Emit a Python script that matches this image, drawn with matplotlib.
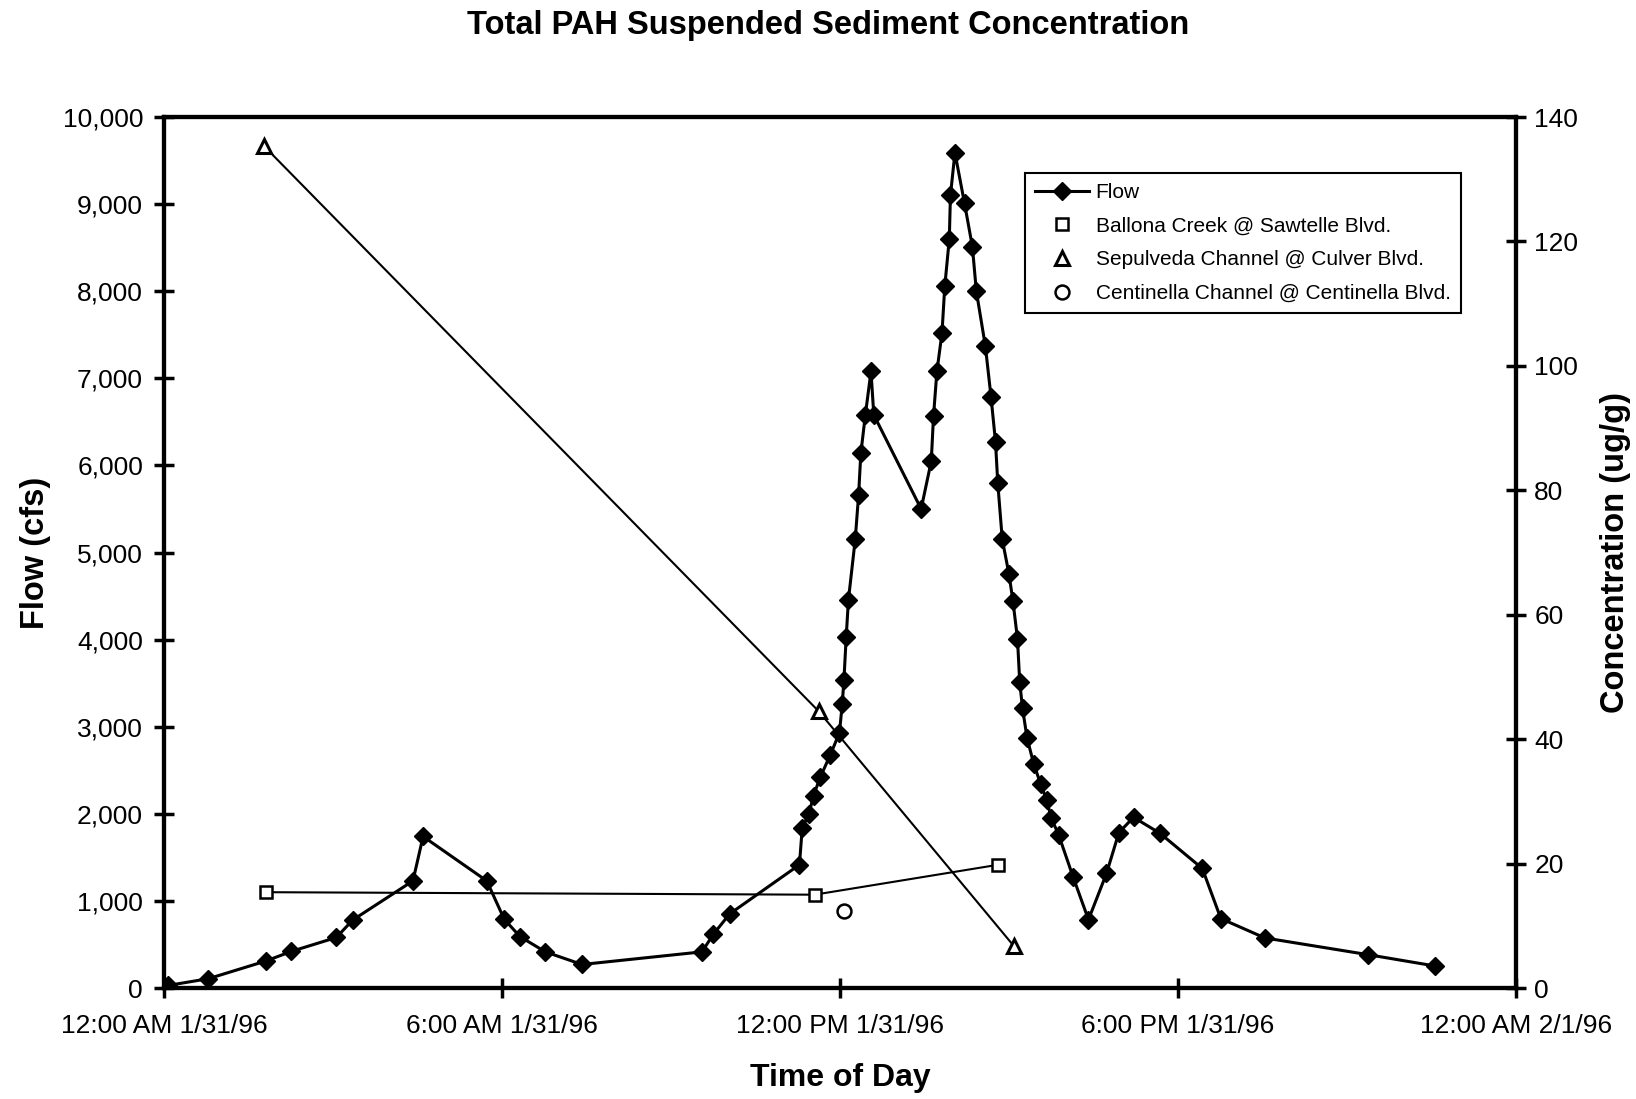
import matplotlib
matplotlib.use("Agg")
import matplotlib.pyplot as plt

plt.rcParams['font.family'] = ['Liberation Sans', 'DejaVu Sans']

# Flow (cfs) vs hours after 12:00 AM 1/31/96
flow_hours = [0.08, 0.79, 1.81, 2.26, 3.06, 3.35, 4.42, 4.60, 5.73, 6.04,
              6.32, 6.77, 7.42, 9.55, 9.75, 10.04, 11.28, 11.33, 11.45, 11.53,
              11.65, 11.83, 11.99, 12.04, 12.07, 12.11, 12.15, 12.27, 12.33, 12.37,
              12.45, 12.55, 12.60, 13.44, 13.62, 13.66, 13.72, 13.81, 13.86, 13.94,
              13.96, 14.04, 14.21, 14.35, 14.42, 14.58, 14.68, 14.76, 14.80, 14.88,
              15.00, 15.07, 15.15, 15.19, 15.24, 15.32, 15.44, 15.56, 15.67, 15.75,
              15.88, 16.14, 16.41, 16.73, 16.95, 17.21, 17.68, 18.43, 18.76, 19.54,
              21.37, 22.56]
flow_cfs = [30, 107, 310, 420, 580, 780, 1230, 1740, 1230, 790,
            590, 415, 270, 415, 615, 850, 1415, 1840, 2000, 2210,
            2420, 2680, 2930, 3260, 3540, 4030, 4460, 5150, 5660, 6140,
            6580, 7080, 6580, 5500, 6050, 6570, 7080, 7520, 8060, 8600,
            9100, 9590, 9010, 8510, 8000, 7370, 6790, 6270, 5800, 5150,
            4750, 4440, 4010, 3510, 3210, 2870, 2570, 2345, 2155, 1950,
            1760, 1270, 785, 1315, 1784, 1960, 1776, 1373, 797, 575,
            383, 253]

# Total PAH suspended sediment concentration (ug/g)
ballona_hours = [1.81, 11.55, 14.80]
ballona_conc = [15.4, 15.0, 19.8]
sepulveda_hours = [1.78, 11.62, 15.09]
sepulveda_conc = [135.3, 44.5, 6.7]
centinella_hours = [12.07]
centinella_conc = [12.4]

tick_hours = [0, 6, 12, 18, 24]
tick_labels = ["12:00 AM 1/31/96", "6:00 AM 1/31/96", "12:00 PM 1/31/96",
               "6:00 PM 1/31/96", "12:00 AM 2/1/96"]
flow_ticks = list(range(0, 10001, 1000))
conc_ticks = list(range(0, 141, 20))

fig = plt.figure(figsize=(16.36, 10.99), dpi=100)
ax = fig.add_axes([0.1002, 0.101, 0.8265, 0.7925])
ax2 = ax.twinx()

ax.plot(flow_hours, flow_cfs, color='black', lw=2.2, marker='D', ms=9.5,
        mfc='black', mec='black', label='Flow', zorder=3)

ax2.plot(ballona_hours, ballona_conc, color='black', lw=1.5, zorder=2)
ax2.plot(sepulveda_hours, sepulveda_conc, color='black', lw=1.5, zorder=2)
h1, = ax2.plot(ballona_hours, ballona_conc, ls='none', marker='s', ms=9,
               mfc='white', mec='black', mew=1.8, label='Ballona Creek @ Sawtelle Blvd.')
h2, = ax2.plot(sepulveda_hours, sepulveda_conc, ls='none', marker='^', ms=10,
               mfc='white', mec='black', mew=2.2, label='Sepulveda Channel @ Culver Blvd.')
h3, = ax2.plot(centinella_hours, centinella_conc, ls='none', marker='o', ms=10,
               mfc='white', mec='black', mew=1.8, label='Centinella Channel @ Centinella Blvd.')

ax.set_xlim(0, 24)
ax.set_ylim(0, 10000)
ax2.set_ylim(0, 140)
ax.set_xticks(tick_hours)
ax.set_xticklabels(tick_labels)
ax.set_yticks(flow_ticks)
ax.set_yticklabels([f"{v:,}" for v in flow_ticks])
ax2.set_yticks(conc_ticks)

for a in (ax, ax2):
    for s in a.spines.values():
        s.set_linewidth(3)
ax.tick_params(axis='both', direction='inout', length=14, width=2.5, labelsize=19)
ax.tick_params(axis='x', pad=12)
ax.tick_params(axis='y', pad=8)
ax2.tick_params(axis='y', direction='inout', length=14, width=2.5, labelsize=19, pad=6)

ax.set_xlabel("Time of Day", fontsize=23, fontweight='bold', labelpad=18)
ax.set_ylabel("Flow (cfs)", fontsize=23.5, fontweight='bold', labelpad=8)
ax2.set_ylabel("Concentration (ug/g)", fontsize=23.5, fontweight='bold', labelpad=16)
fig.suptitle("Total PAH Suspended Sediment Concentration", x=0.506, y=0.977, va='center',
             fontsize=23.5, fontweight='bold')

hf, lf = ax.get_legend_handles_labels()
leg = ax2.legend(hf + [h1, h2, h3], lf + [h1.get_label(), h2.get_label(), h3.get_label()],
                 loc='upper right', bbox_to_anchor=(0.967, 0.948), fontsize=15,
                 fancybox=False, framealpha=1, edgecolor='black', borderpad=0.5,
                 labelspacing=0.7, handlelength=2.6, handletextpad=0.3)
leg.get_frame().set_linewidth(1.5)

fig.savefig("out.png", dpi=100)
